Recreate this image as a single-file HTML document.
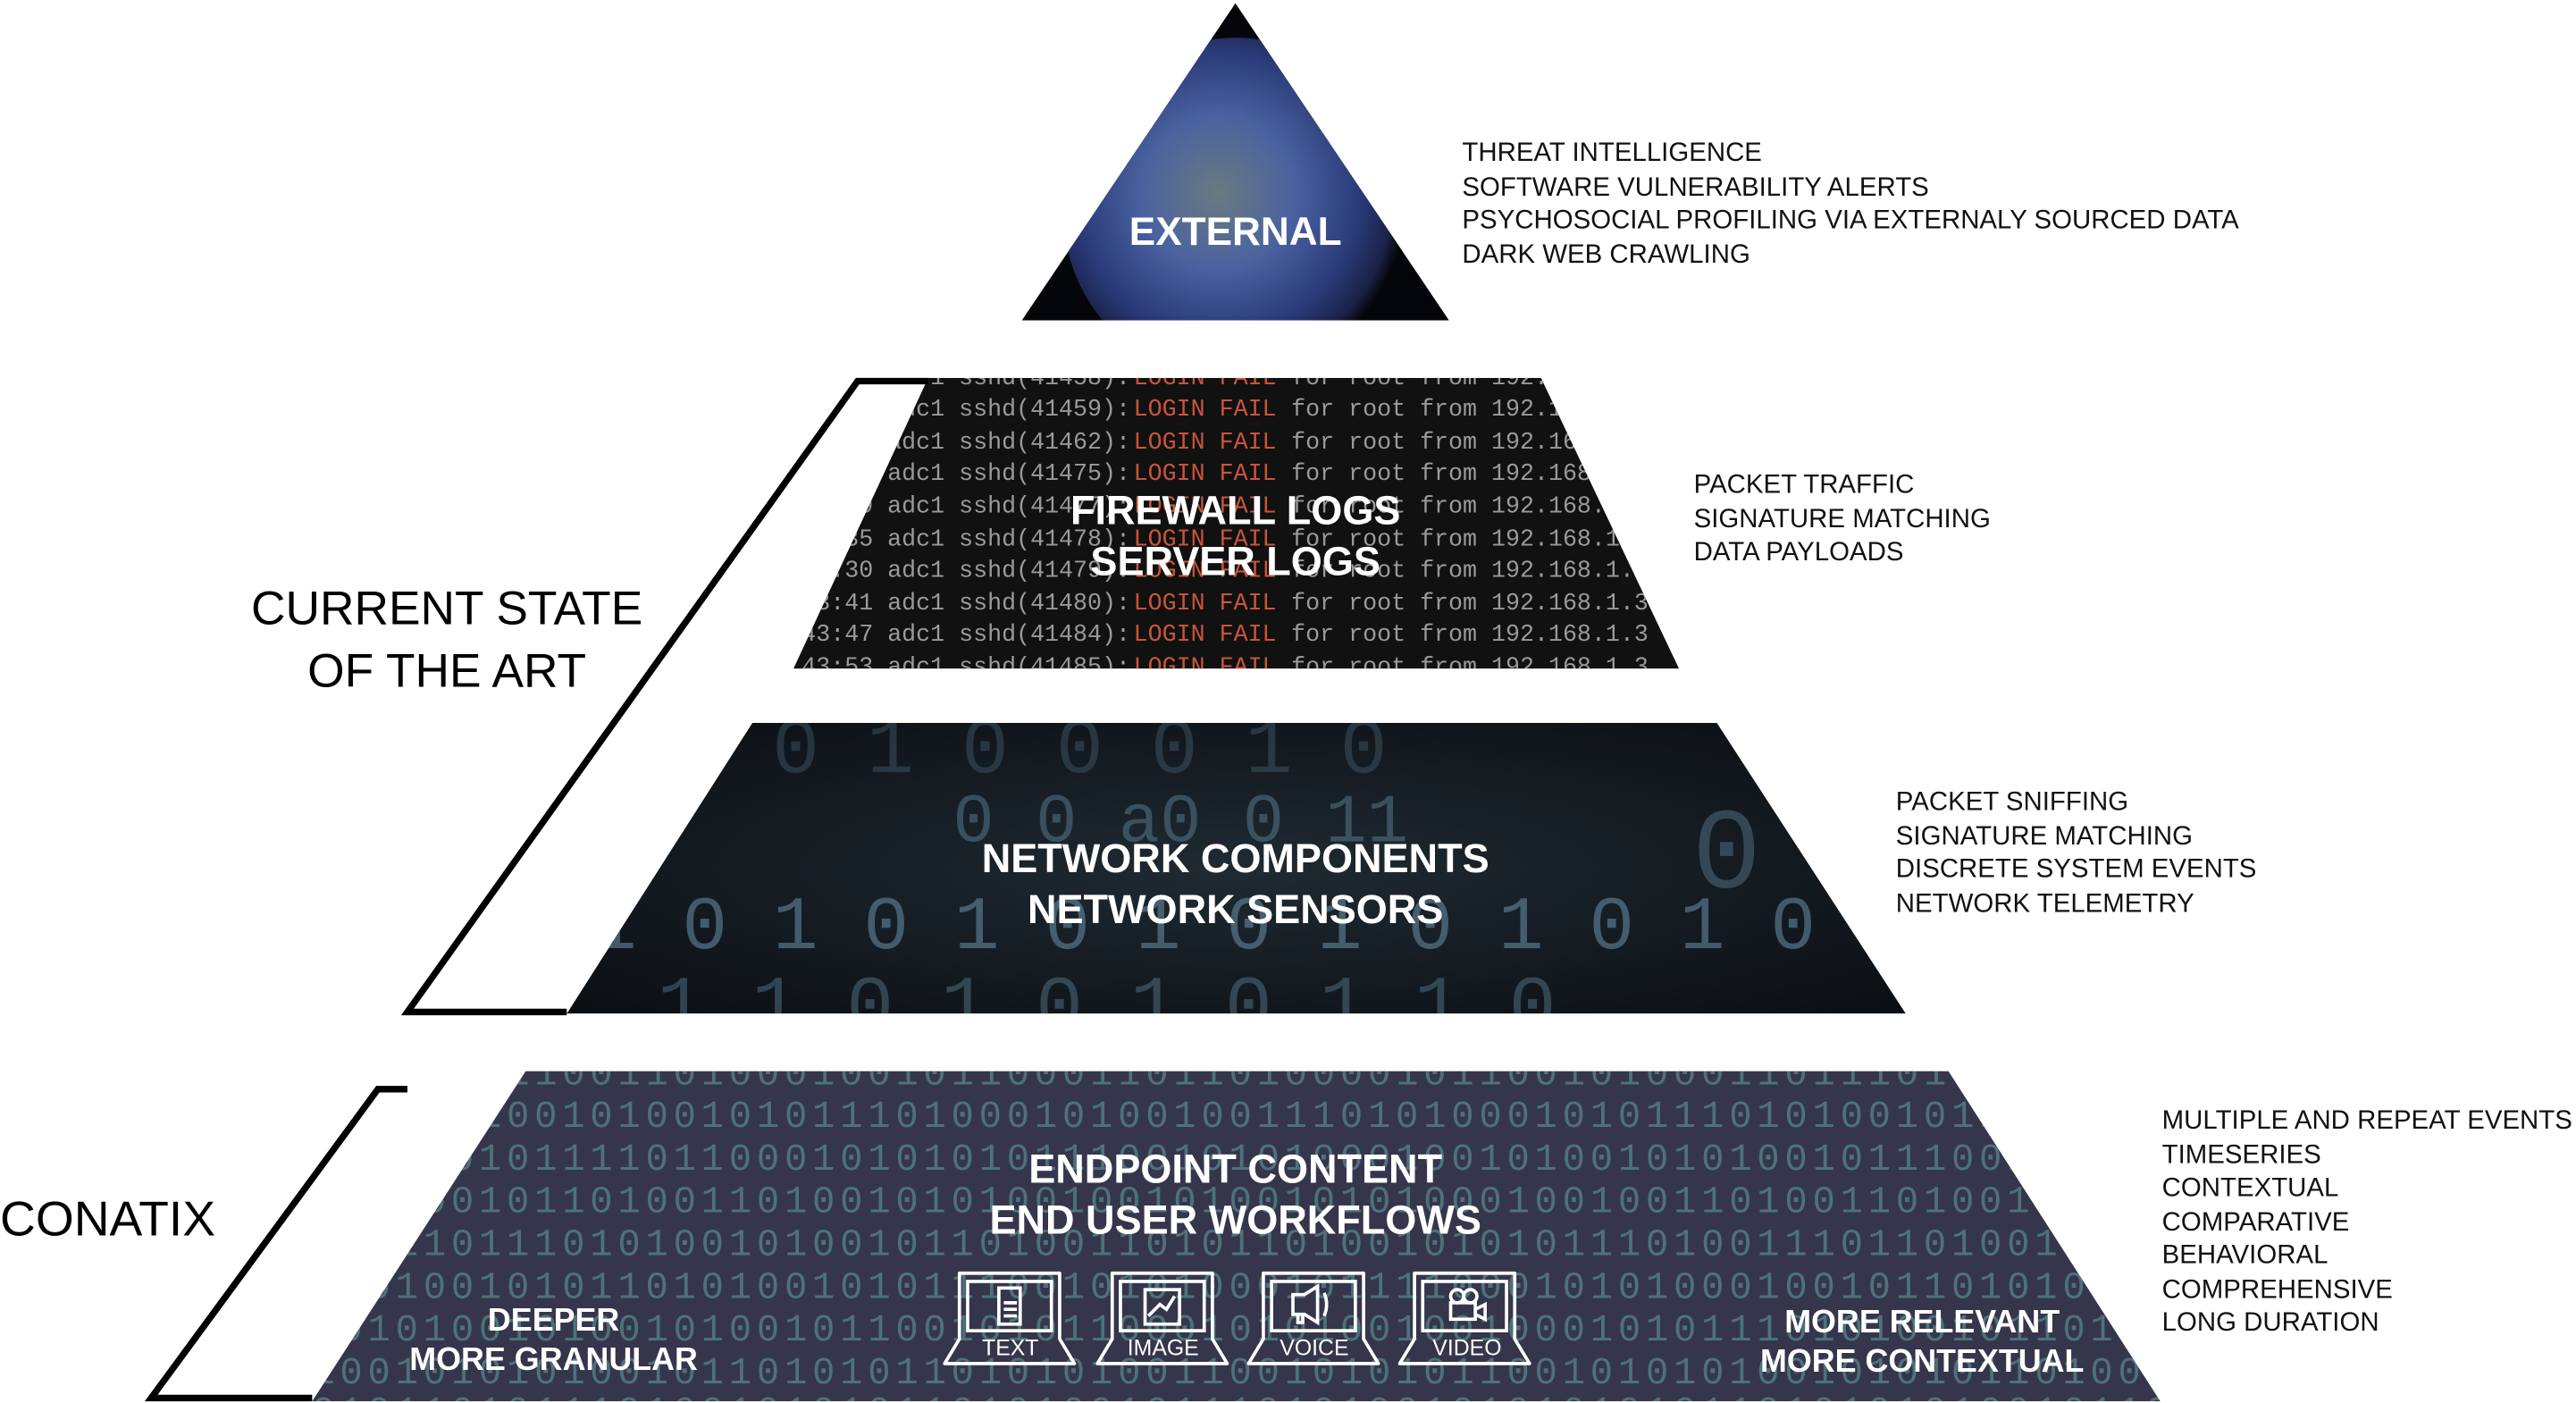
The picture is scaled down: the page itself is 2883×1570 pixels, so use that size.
<!DOCTYPE html>
<html><head><meta charset="utf-8"><style>
html,body{margin:0;padding:0;background:#fff;}
svg{display:block;}
</style></head><body>
<svg width="2883" height="1570" viewBox="0 0 1568 854" preserveAspectRatio="none" xmlns="http://www.w3.org/2000/svg" font-family="Liberation Sans, sans-serif">
<defs>
<clipPath id="c1"><polygon points="752,2 882,195 622,195"/></clipPath>
<clipPath id="c2"><polygon points="565,230 938,230 1022,407 483,407"/></clipPath>
<clipPath id="c3"><polygon points="458,440 1045,440 1160,617 345,617"/></clipPath>
<clipPath id="c4"><polygon points="320,652 1186,652 1315,853 190,853"/></clipPath>
<radialGradient id="earth" cx="0.45" cy="0.45" r="0.55">
<stop offset="0" stop-color="#6a7a80"/><stop offset="0.4" stop-color="#4a62a0"/><stop offset="0.75" stop-color="#2a3a78"/><stop offset="0.92" stop-color="#1a2248"/><stop offset="1" stop-color="#05060a"/></radialGradient>
<radialGradient id="t3" cx="0.5" cy="0.5" r="0.7"><stop offset="0" stop-color="#1f2a32"/><stop offset="1" stop-color="#0a0e12"/></radialGradient>
</defs>

<g clip-path="url(#c1)">
<rect x="600" y="0" width="300" height="200" fill="#05060a"/>
<circle cx="752" cy="128" r="105" fill="url(#earth)"/>
</g>
<text x="752" y="149" fill="#fff" font-size="24" font-weight="bold" text-anchor="middle">EXTERNAL</text>

<g clip-path="url(#c2)">
<rect x="480" y="228" width="545" height="182" fill="#111"/>
<g font-family="Liberation Mono, monospace" font-size="14.5" fill="#9a9a9a">
<text x="688" y="234" text-anchor="end">adc1 sshd(41458):</text>
<text x="688" y="253" text-anchor="end">adc1 sshd(41459):</text>
<text x="688" y="273" text-anchor="end">adc1 sshd(41462):</text>
<text x="688" y="292" text-anchor="end">adc1 sshd(41475):</text>
<text x="688" y="312" text-anchor="end">3:29 adc1 sshd(41477):</text>
<text x="688" y="332" text-anchor="end">3:35 adc1 sshd(41478):</text>
<text x="688" y="351" text-anchor="end">43:30 adc1 sshd(41479):</text>
<text x="688" y="371" text-anchor="end">43:41 adc1 sshd(41480):</text>
<text x="688" y="390" text-anchor="end">43:47 adc1 sshd(41484):</text>
<text x="688" y="410" text-anchor="end">43:53 adc1 sshd(41485):</text>
<g fill="#c8553a">
<text x="690" y="234">LOGIN FAIL</text><text x="690" y="253">LOGIN FAIL</text><text x="690" y="273">LOGIN FAIL</text><text x="690" y="292">LOGIN FAIL</text><text x="690" y="312">LOGIN FAIL</text><text x="690" y="332">LOGIN FAIL</text><text x="690" y="351">LOGIN FAIL</text><text x="690" y="371">LOGIN FAIL</text><text x="690" y="390">LOGIN FAIL</text><text x="690" y="410">LOGIN FAIL</text>
</g>
<text x="786" y="234">for root from 192.168.1.3</text><text x="786" y="253">for root from 192.168.1.3</text><text x="786" y="273">for root from 192.168.1.3</text><text x="786" y="292">for root from 192.168.1.3</text><text x="786" y="312">for root from 192.168.1.3</text><text x="786" y="332">for root from 192.168.1.3</text><text x="786" y="351">for root from 192.168.1.3</text><text x="786" y="371">for root from 192.168.1.3</text><text x="786" y="390">for root from 192.168.1.3</text><text x="786" y="410">for root from 192.168.1.3</text>
</g>
</g>
<text x="752" y="319" fill="#fff" font-size="24.5" font-weight="bold" text-anchor="middle">FIREWALL LOGS</text>
<text x="752" y="350" fill="#fff" font-size="24.5" font-weight="bold" text-anchor="middle">SERVER LOGS</text>

<g clip-path="url(#c3)">
<rect x="340" y="438" width="825" height="182" fill="url(#t3)"/>
<g font-family="Liberation Mono, monospace" fill="#5d7f96">
<text x="470" y="470" font-size="48" opacity="0.3">0  1 0 0 0 1 0</text>
<text x="580" y="512" font-size="42" opacity="0.5">0 0  a0  0 11</text>
<text x="360" y="577" font-size="46" opacity="0.65">1 0 1 0 1 0 1 0 1 0 1 0 1 0 0 1</text>
<text x="400" y="627" font-size="48" opacity="0.45">1 1 0 1  0  1 0 1 1 0</text>
<text x="1030" y="540" font-size="70" opacity="0.45">0</text>
</g>
</g>
<text x="752" y="531" fill="#fff" font-size="24.5" font-weight="bold" text-anchor="middle">NETWORK COMPONENTS</text>
<text x="752" y="562" fill="#fff" font-size="24.5" font-weight="bold" text-anchor="middle">NETWORK SENSORS</text>

<g clip-path="url(#c4)">
<rect x="185" y="650" width="1135" height="206" fill="#35364c"/>
<g font-family="Liberation Mono, monospace" font-size="23" fill="#5f9a9a" opacity="0.6">
<text x="190" y="660" textLength="1130" lengthAdjust="spacing">0101001110011010001001011000110110100001011001010001101110101001011</text>
<text x="190" y="686" textLength="1130" lengthAdjust="spacing">1110101001010010101110100010100100111010100010101110101001011010100</text>
<text x="190" y="712" textLength="1130" lengthAdjust="spacing">1010101011110110001010101011100101010001001010010101001011100101101</text>
<text x="190" y="738" textLength="1130" lengthAdjust="spacing">0101001011010011010010101001001010010101000100100110100110100101011</text>
<text x="190" y="764" textLength="1130" lengthAdjust="spacing">1011101110101001010010110100110101101001010101110100111011010010110</text>
<text x="190" y="790" textLength="1130" lengthAdjust="spacing">0101001010110101001010111001010100010111100010101000100101101010011</text>
<text x="190" y="816" textLength="1130" lengthAdjust="spacing">1010100101001010010110010101100010101001001000101011101010010110100</text>
<text x="190" y="842" textLength="1130" lengthAdjust="spacing">1001010101001011010101101010100110010101011001010101001010101101001</text>
<text x="190" y="866" textLength="1130" lengthAdjust="spacing">0101101011101001010101101010010111010100101010101011010101010010110</text>
</g>
</g>
<text x="752" y="720" fill="#fff" font-size="24.5" font-weight="bold" text-anchor="middle">ENDPOINT CONTENT</text>
<text x="752" y="751" fill="#fff" font-size="24.5" font-weight="bold" text-anchor="middle">END USER WORKFLOWS</text>
<text x="337" y="810" fill="#fff" font-size="19.5" font-weight="bold" text-anchor="middle">DEEPER</text>
<text x="337" y="834" fill="#fff" font-size="19.5" font-weight="bold" text-anchor="middle">MORE GRANULAR</text>
<text x="1170" y="811" fill="#fff" font-size="19.5" font-weight="bold" text-anchor="middle">MORE RELEVANT</text>
<text x="1170" y="835" fill="#fff" font-size="19.5" font-weight="bold" text-anchor="middle">MORE CONTEXTUAL</text>

<g fill="none" stroke="#fff" stroke-width="2">
<g transform="translate(575,773)">
<path d="M9,2 h61 v40 l9,15 h-79 l9,-15 z" stroke-linejoin="round"/><rect x="14" y="7" width="51" height="30"/>
<rect x="33" y="11" width="13" height="22"/><path d="M36,20h8M36,24h8M36,28h8"/></g>
<g transform="translate(668,773)">
<path d="M9,2 h61 v40 l9,15 h-79 l9,-15 z" stroke-linejoin="round"/><rect x="14" y="7" width="51" height="30"/>
<rect x="29" y="12" width="21" height="21"/><path d="M31,28 l7,-7 4,3 5,-8"/></g>
<g transform="translate(760,773)">
<path d="M9,2 h61 v40 l9,15 h-79 l9,-15 z" stroke-linejoin="round"/><rect x="14" y="7" width="51" height="30"/>
<path d="M27,15h7l8,-5v22l-8,-5h-7z M30,27v5h3v-5 M46,14q3,7 0,14"/></g>
<g transform="translate(852,773)">
<path d="M9,2 h61 v40 l9,15 h-79 l9,-15 z" stroke-linejoin="round"/><rect x="14" y="7" width="51" height="30"/>
<circle cx="35" cy="16" r="4"/><circle cx="43" cy="16" r="4"/><rect x="31" y="20" width="15" height="10"/><path d="M46,24l6,-3v9l-6,-3"/></g>
</g>
<g fill="#fff" font-size="13.5" text-anchor="middle">
<text x="615" y="825">TEXT</text><text x="708" y="825">IMAGE</text><text x="800" y="825">VOICE</text><text x="893" y="825">VIDEO</text>
</g>

<g fill="none" stroke="#000" stroke-width="4" stroke-linejoin="miter">
<polyline points="565,232 522,232 248,616 345,616"/>
<polyline points="248,663 230,663 92,851 190,851"/>
</g>
<g fill="#000" font-size="29" text-anchor="middle">
<text x="272" y="380">CURRENT STATE</text>
<text x="272" y="418">OF THE ART</text>
</g>
<text x="0" y="752" fill="#000" font-size="30">CONATIX</text>

<g fill="#111" font-size="16">
<text x="890" y="98">THREAT INTELLIGENCE</text>
<text x="890" y="119">SOFTWARE VULNERABILITY ALERTS</text>
<text x="890" y="139">PSYCHOSOCIAL PROFILING VIA EXTERNALY SOURCED DATA</text>
<text x="890" y="160">DARK WEB CRAWLING</text>
<text x="1031" y="300">PACKET TRAFFIC</text>
<text x="1031" y="321">SIGNATURE MATCHING</text>
<text x="1031" y="341">DATA PAYLOADS</text>
<text x="1154" y="493">PACKET SNIFFING</text>
<text x="1154" y="514">SIGNATURE MATCHING</text>
<text x="1154" y="534">DISCRETE SYSTEM EVENTS</text>
<text x="1154" y="555">NETWORK TELEMETRY</text>
<text x="1316" y="687">MULTIPLE AND REPEAT EVENTS</text>
<text x="1316" y="708">TIMESERIES</text>
<text x="1316" y="728">CONTEXTUAL</text>
<text x="1316" y="749">COMPARATIVE</text>
<text x="1316" y="769">BEHAVIORAL</text>
<text x="1316" y="790">COMPREHENSIVE</text>
<text x="1316" y="810">LONG DURATION</text>
</g>
</svg>
</body></html>
